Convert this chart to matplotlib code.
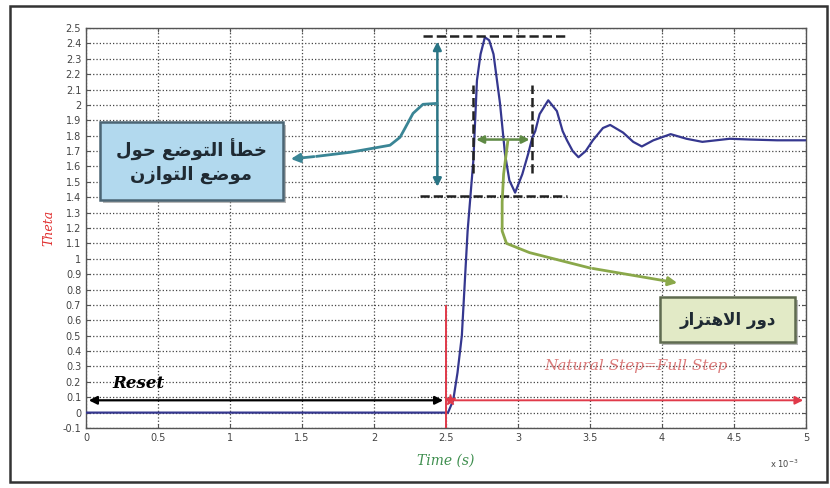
import matplotlib
matplotlib.use('Agg')
import matplotlib.pyplot as plt
from matplotlib.patches import FancyBboxPatch, Rectangle
import numpy as np

# response of the rotor angle (time in units of 1e-3 s)
t_resp = [0, 0.5, 1.0, 1.5, 2.0, 2.5, 2.514, 2.55, 2.58, 2.61, 2.65, 2.69, 2.715, 2.74, 2.77,
          2.80, 2.83, 2.875, 2.91, 2.94, 2.98, 3.03, 3.07, 3.10, 3.12, 3.15, 3.21, 3.27,
          3.31, 3.34, 3.38, 3.42, 3.47, 3.52, 3.59, 3.64, 3.73, 3.80, 3.86, 3.94, 4.06,
          4.17, 4.28, 4.47, 4.61, 4.80, 5.0]
theta = [0, 0, 0, 0, 0, 0, 0, 0.08, 0.26, 0.50, 1.18, 1.64, 2.16, 2.33, 2.44,
         2.42, 2.33, 2.01, 1.68, 1.51, 1.43, 1.55, 1.68, 1.79, 1.83, 1.94, 2.03, 1.96,
         1.83, 1.77, 1.70, 1.66, 1.70, 1.77, 1.85, 1.87, 1.82, 1.76, 1.73, 1.77, 1.81,
         1.78, 1.76, 1.78, 1.775, 1.77, 1.77]

# annotation guides
peak_level = 2.445
valley_level = 1.41
period_start = 2.69
period_end = 3.10
period_y = 1.775
teal_x = [2.4375, 2.34, 2.271, 2.215, 2.181, 2.111, 1.833, 1.604, 1.403]
teal_y = [2.010, 2.004, 1.945, 1.848, 1.790, 1.738, 1.692, 1.666, 1.647]
green_x = [2.93, 2.90, 2.89, 2.89, 2.92, 3.08, 3.50, 4.125]
green_y = [1.77, 1.55, 1.37, 1.18, 1.10, 1.04, 0.94, 0.84]
step_y = 0.08

box1_text = ['خطأ التوضع حول', 'موضع التوازن']
box2_text = ['دور الاهتزاز']

AR_FORMS = {
    'ا': ('\ufe8d', '\ufe8e', None, None),
    'أ': ('\ufe83', '\ufe84', None, None),
    'ت': ('\ufe95', '\ufe96', '\ufe97', '\ufe98'),
    'ح': ('\ufea1', '\ufea2', '\ufea3', '\ufea4'),
    'خ': ('\ufea5', '\ufea6', '\ufea7', '\ufea8'),
    'د': ('\ufea9', '\ufeaa', None, None),
    'ر': ('\ufead', '\ufeae', None, None),
    'ز': ('\ufeaf', '\ufeb0', None, None),
    'ض': ('\ufebd', '\ufebe', '\ufebf', '\ufec0'),
    'ط': ('\ufec1', '\ufec2', '\ufec3', '\ufec4'),
    'ع': ('\ufec9', '\ufeca', '\ufecb', '\ufecc'),
    'ل': ('\ufedd', '\ufede', '\ufedf', '\ufee0'),
    'م': ('\ufee1', '\ufee2', '\ufee3', '\ufee4'),
    'ن': ('\ufee5', '\ufee6', '\ufee7', '\ufee8'),
    'ه': ('\ufee9', '\ufeea', '\ufeeb', '\ufeec'),
    'و': ('\ufeed', '\ufeee', None, None),
}


def shape_ar(s):
    # join arabic letters and put them in visual (left to right) order
    out = []
    i = 0
    while i < len(s):
        c = s[i]
        if c not in AR_FORMS:
            out.append(c)
            i += 1
            continue
        prev = s[i - 1] if i > 0 else ''
        joins_prev = prev in AR_FORMS and AR_FORMS[prev][2] is not None
        if c == 'ل' and i + 1 < len(s) and s[i + 1] == 'ا':
            out.append('\ufefc' if joins_prev else '\ufefb')
            i += 2
            continue
        nxt = s[i + 1] if i + 1 < len(s) else ''
        joins_next = AR_FORMS[c][2] is not None and nxt in AR_FORMS
        isol, fin, ini, med = AR_FORMS[c]
        if joins_prev and joins_next:
            out.append(med)
        elif joins_prev:
            out.append(fin)
        elif joins_next:
            out.append(ini)
        else:
            out.append(isol)
        i += 1
    return ''.join(reversed(out))


fig = plt.figure(figsize=(8.3, 4.88), dpi=100)
fig.patches.append(Rectangle((10 / 830, 6 / 488), 817 / 830, 476 / 488, transform=fig.transFigure,
                             fill=False, edgecolor='#333333', linewidth=1.8))
ax = fig.add_axes([86 / 830, 1 - 428 / 488, 720 / 830, 400 / 488])

ax.set_xlim(0, 5)
ax.set_ylim(-0.1, 2.5)
ax.set_xticks(np.arange(0, 5.01, 0.5))
ax.set_yticks(np.arange(-0.1, 2.51, 0.1))
ax.set_xticklabels(['%g' % v for v in np.arange(0, 5.01, 0.5)])
ax.set_yticklabels(['%g' % round(v, 1) for v in np.arange(-0.1, 2.51, 0.1)])
ax.tick_params(direction='in', top=True, right=True, labelsize=7, labelcolor='#444444',
               length=3, color='#555555')
ax.grid(True, linestyle=':', color='#444444', linewidth=0.9)
for sp in ax.spines.values():
    sp.set_color('#555555')
    sp.set_linewidth(1.0)

ax.set_xlabel('Time (s)', color='#3f8f4f', style='italic', family='serif', fontsize=10)
ax.xaxis.set_label_coords(0.5, -0.065)
ax.set_ylabel('Theta', color='#e03030', style='italic', family='serif', fontsize=9)
ax.yaxis.set_label_coords(-0.042, 0.5)
ax.text(0.99, -0.075, r'x 10$^{-3}$', transform=ax.transAxes, fontsize=6, color='#444444',
        ha='right', va='top')

# response
ax.plot(t_resp, theta, color='#35378f', linewidth=1.6, zorder=5)

# reset / step arrows
ax.annotate('', xy=(0, step_y), xytext=(2.5, step_y),
            arrowprops=dict(arrowstyle='<|-|>', color='black', lw=1.6, mutation_scale=12), zorder=6)
ax.annotate('', xy=(5, step_y), xytext=(2.5, step_y),
            arrowprops=dict(arrowstyle='-|>', color='#e03a4a', lw=1.4, mutation_scale=12), zorder=6)
ax.plot([2.5, 2.5], [-0.1, 0.69], color='#e03a4a', linewidth=1.4, zorder=6)
ax.plot(2.53, step_y, marker='*', color='#e03a4a', markersize=8, zorder=7)
ax.text(0.18, 0.16, 'Reset', fontsize=12, weight='bold', style='italic', family='serif', zorder=7)
ax.text(3.82, 0.30, 'Natural Step=Full Step', fontsize=11, style='italic', family='serif',
        color='#d05050', alpha=0.75, ha='center', va='center', zorder=7)

# overshoot guides
ax.plot([2.34, 3.35], [peak_level, peak_level], '--', color='#222222', lw=1.8, zorder=6)
ax.plot([2.32, 3.34], [valley_level, valley_level], '--', color='#222222', lw=1.8, zorder=6)
ax.annotate('', xy=(2.44, 2.43), xytext=(2.44, 1.45),
            arrowprops=dict(arrowstyle='<|-|>', color='#2a7585', lw=1.8, mutation_scale=12), zorder=6)
ax.plot(teal_x[:-1], teal_y[:-1], color='#3a8595', lw=2.0, zorder=6)
ax.annotate('', xy=(teal_x[-1], teal_y[-1]), xytext=(teal_x[-2], teal_y[-2]),
            arrowprops=dict(arrowstyle='-|>', color='#3a8595', lw=2.0, mutation_scale=13), zorder=6)

# period guides
ax.plot([period_start, period_start], [1.56, 2.13], '--', color='#222222', lw=1.8, zorder=6)
ax.plot([period_end, period_end], [1.56, 2.13], '--', color='#222222', lw=1.8, zorder=6)
ax.annotate('', xy=(period_start, period_y), xytext=(period_end, period_y),
            arrowprops=dict(arrowstyle='<|-|>', color='#5f8a45', lw=1.8, mutation_scale=11), zorder=6)
ax.plot(green_x[:-1], green_y[:-1], color='#8aa84a', lw=2.0, zorder=6)
ax.annotate('', xy=(green_x[-1], green_y[-1]), xytext=(green_x[-2], green_y[-2]),
            arrowprops=dict(arrowstyle='-|>', color='#8aa84a', lw=2.0, mutation_scale=13), zorder=6)

# text boxes
for (x0, x1, y0, y1, fc, ec, lines, fs) in [
        (0.097, 1.368, 1.380, 1.887, '#b2d9ee', '#4b6574', box1_text, 13),
        (3.986, 4.924, 0.458, 0.751, '#e2eac6', '#5f6b50', box2_text, 12)]:
    ax.add_patch(Rectangle((x0 + 0.02, y0 - 0.02), x1 - x0, y1 - y0, facecolor='#8a8a8a',
                           edgecolor='none', alpha=0.6, zorder=7))
    ax.add_patch(FancyBboxPatch((x0, y0), x1 - x0, y1 - y0, boxstyle='square,pad=0',
                                facecolor=fc, edgecolor=ec, linewidth=1.8, zorder=8))
    ax.text((x0 + x1) / 2, (y0 + y1) / 2, '\n'.join(shape_ar(l) for l in lines),
            ha='center', va='center', fontsize=fs, weight='bold', color='#1f2a33',
            family=['DejaVu Sans'], linespacing=1.3, zorder=9)

fig.savefig('out.png', dpi=100)
